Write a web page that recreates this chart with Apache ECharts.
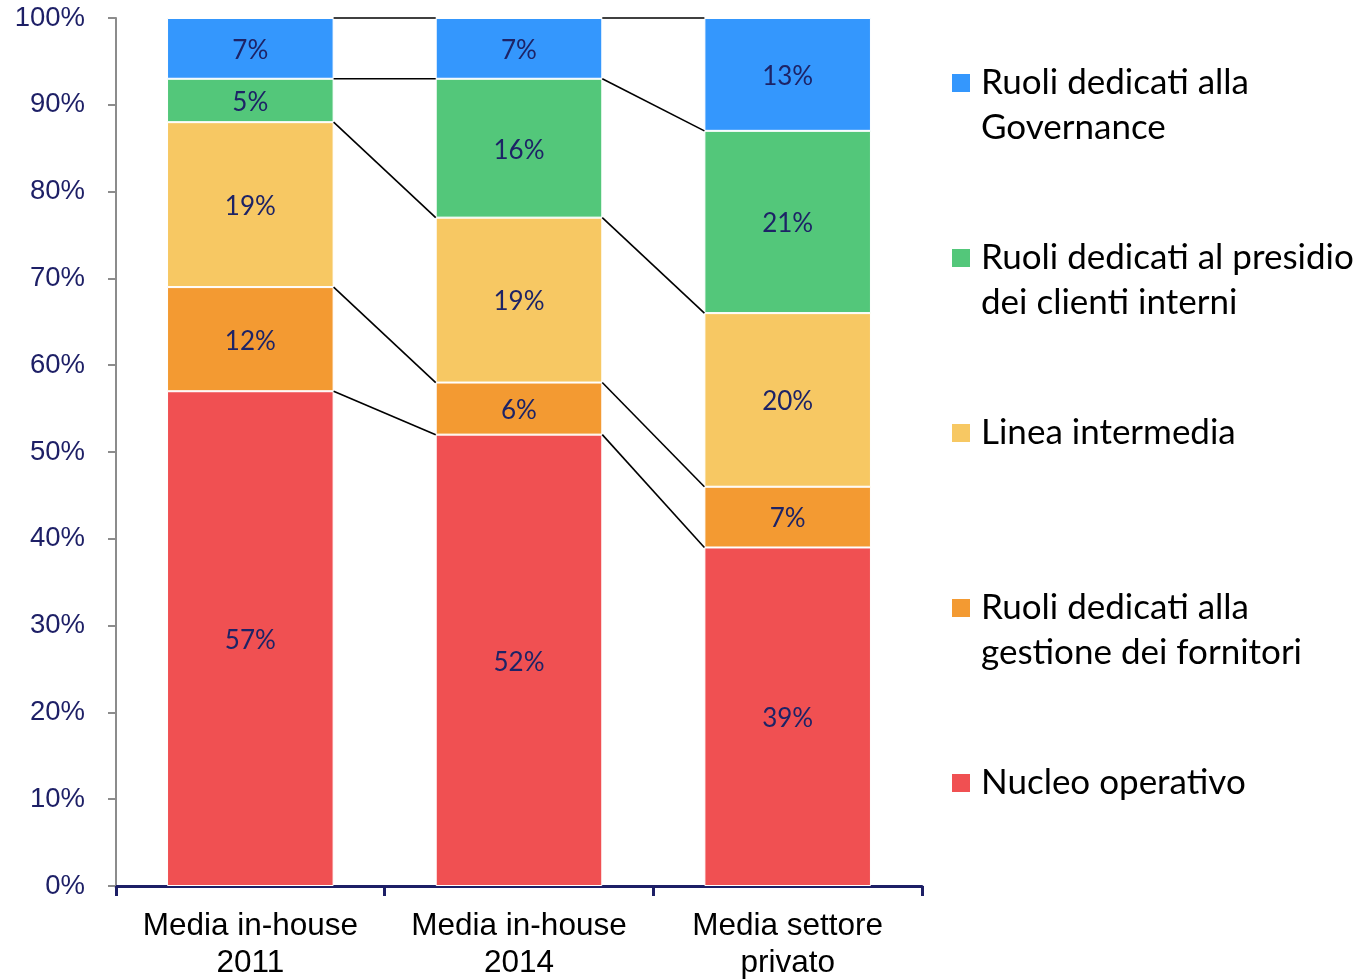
<!DOCTYPE html>
<html>
<head>
<meta charset="utf-8">
<script src="https://cdn.jsdelivr.net/npm/echarts@6/dist/echarts.min.js"></script>
<style>
html, body { margin: 0; padding: 0; background: #fff; }
#chart { width: 1358px; height: 980px; }
</style>
</head>
<body>
<div id="chart"></div>
<script>
var categories = ['Media in-house\n2011', 'Media in-house\n2014', 'Media settore\nprivato'];
var yTicks = [0, 10, 20, 30, 40, 50, 60, 70, 80, 90, 100];

var nucleo = [57, 52, 39];
var fornitori = [12, 6, 7];
var linea = [19, 19, 20];
var presidio = [5, 16, 21];
var governance = [7, 7, 13];

var seriesNames = ['Nucleo operativo', 'Ruoli dedicati alla gestione dei fornitori', 'Linea intermedia',
    'Ruoli dedicati al presidio dei clienti interni', 'Ruoli dedicati alla Governance'];
// riga vuota iniziale: così l'icona resta allineata alla prima riga del testo
var legendText = {
    'Nucleo operativo': 'Nucleo operativo',
    'Ruoli dedicati alla gestione dei fornitori': '\nRuoli dedicati alla\ngestione dei fornitori',
    'Linea intermedia': 'Linea intermedia',
    'Ruoli dedicati al presidio dei clienti interni': '\nRuoli dedicati al presidio\ndei clienti interni',
    'Ruoli dedicati alla Governance': '\nRuoli dedicati alla\nGovernance'
};
var colors = ['#f05052', '#f39a32', '#f7c863', '#53c77a', '#3497fd'];
var stackData = [nucleo, fornitori, linea, presidio, governance];

var BAR_RATIO = 0.62;
var LINE_H = 45;

// livelli cumulati per le linee di collegamento tra le barre
var linkData = [];
for (var i = 0; i < categories.length - 1; i++) {
    var a = 0, b = 0;
    for (var s = 0; s < stackData.length; s++) {
        a += stackData[s][i];
        b += stackData[s][i + 1];
        linkData.push([i, a, b]);
    }
}

var chart = echarts.init(document.getElementById('chart'));

var series = stackData.map(function (vals, idx) {
    return {
        name: seriesNames[idx],
        type: 'bar',
        stack: 'tot',
        barWidth: (BAR_RATIO * 100) + '%',
        data: vals,
        itemStyle: { color: colors[idx], borderColor: '#fff', borderWidth: 1 },
        label: {
            show: true,
            position: 'inside',
            offset: [0, 2],
            formatter: '{c}%',
            color: '#1d2366',
            fontFamily: 'Lato',
            fontSize: 26
        }
    };
});

series.push({
    type: 'custom',
    data: linkData,
    encode: { x: 0, y: [1, 2] },
    silent: true,
    z: 5,
    renderItem: function (params, api) {
        var i = api.value(0);
        var p1 = api.coord([i, api.value(1)]);
        var p2 = api.coord([i + 1, api.value(2)]);
        var half = api.size([1, 0])[0] * BAR_RATIO / 2;
        return {
            type: 'line',
            shape: { x1: p1[0] + half, y1: p1[1], x2: p2[0] - half, y2: p2[1] },
            style: { stroke: '#000', lineWidth: 1.6 }
        };
    }
});

function makeLegend(name, top) {
    return {
        data: [name],
        orient: 'vertical',
        left: 950,
        top: top,
        padding: 0,
        itemWidth: 30,
        itemHeight: 20,
        icon: 'path://M0,0h10v10h-10z',
        formatter: function (n) { return legendText[n]; },
        textStyle: {
            color: '#000',
            fontFamily: 'Lato',
            fontSize: 35,
            lineHeight: LINE_H
        }
    };
}

var option = {
    backgroundColor: '#fff',
    animation: false,
    grid: { left: 116, right: 436, top: 18, bottom: 94, containLabel: false, outerBoundsMode: 'none' },
    legend: [
        makeLegend(seriesNames[4], 83 - LINE_H * 1.5),
        makeLegend(seriesNames[3], 258 - LINE_H * 1.5),
        makeLegend(seriesNames[2], 433 - LINE_H / 2),
        makeLegend(seriesNames[1], 608 - LINE_H * 1.5),
        makeLegend(seriesNames[0], 783 - LINE_H / 2)
    ],
    xAxis: {
        type: 'category',
        data: categories,
        axisLine: { lineStyle: { color: '#1d1f66', width: 3 } },
        axisTick: { show: true, length: 10, lineStyle: { color: '#1d1f66', width: 3 } },
        axisLabel: {
            interval: 0,
            hideOverlap: false,
            color: '#000',
            fontFamily: 'Liberation Sans',
            fontSize: 31.5,
            lineHeight: 37,
            margin: 22
        }
    },
    yAxis: {
        type: 'value',
        min: yTicks[0],
        max: yTicks[yTicks.length - 1],
        interval: yTicks[1] - yTicks[0],
        splitLine: { show: false },
        axisLine: { show: true, lineStyle: { color: '#8c8c8c', width: 2 } },
        axisTick: { show: true, length: 8, lineStyle: { color: '#8c8c8c', width: 2 } },
        axisLabel: {
            formatter: '{value}%',
            color: '#1d1f66',
            fontFamily: 'Liberation Sans',
            fontSize: 27.5,
            margin: 31
        }
    },
    series: series
};

chart.setOption(option);
</script>
</body>
</html>
